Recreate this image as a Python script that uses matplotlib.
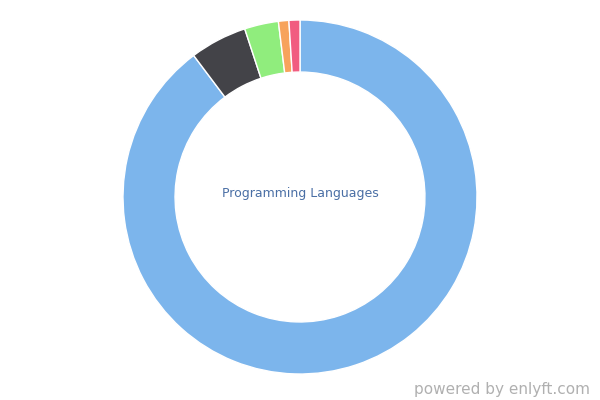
import matplotlib
matplotlib.use("Agg")
import matplotlib.pyplot as plt

labels = ["Programming Languages", "Other 1", "Other 2", "Other 3", "Other 4"]
shares = [89.7, 5.2, 3.1, 0.95, 1.0]
colors = ["#7cb5ec", "#434348", "#90ed7d", "#f7a35c", "#f15c80"]

fig = plt.figure(figsize=(6, 4), dpi=100)
ax = fig.add_axes([0.205, 0.065, 0.59, 0.885])

ax.pie(shares, colors=colors, startangle=90, counterclock=False, radius=1.0,
       wedgeprops=dict(width=0.294, edgecolor="white", linewidth=1))
ax.set_xlim(-1, 1)
ax.set_ylim(-1, 1)
ax.set_aspect("equal")
ax.axis("off")

ax.text(0, 0.02, "Programming Languages", ha="center", va="center",
        fontsize=9, color="#4a6fa5")

fig.text(0.983, 0.027, "powered by enlyft.com", ha="right", va="center",
         fontsize=11, color="#b0b0b0")

fig.savefig("out.png", dpi=100)
